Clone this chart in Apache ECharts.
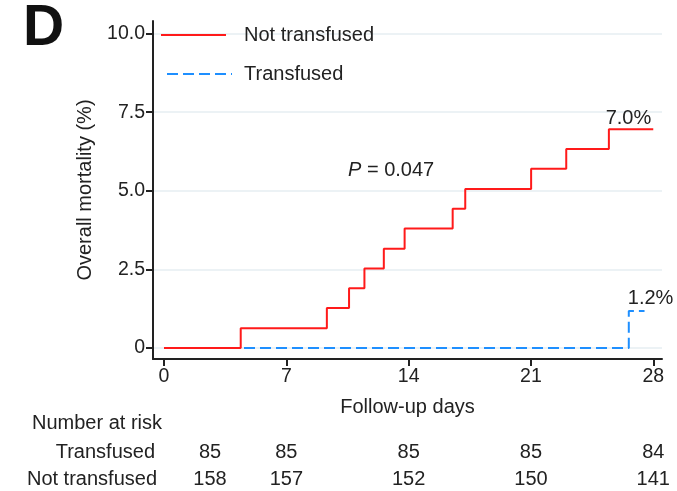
<!DOCTYPE html>
<html>
<head>
<meta charset="utf-8">
<script src="https://cdn.jsdelivr.net/npm/echarts@6/dist/echarts.min.js"></script>
<style>
html,body{margin:0;padding:0;background:#fff;}
#c{width:677px;height:491px;}
</style>
</head>
<body>
<div id="c"></div>
<script>
// ---- data ----
const xTicks = [0, 7, 14, 21, 28];
const yTicks = [0, 2.5, 5, 7.5, 10];
const notTransfusedDays = [0, 4.39, 9.32, 10.59, 11.47, 12.58, 13.77, 16.52, 17.24, 21.01, 23.02, 25.46, 28];
const notTransfusedMort = [0, 0.63, 1.27, 1.90, 2.53, 3.16, 3.80, 4.43, 5.06, 5.70, 6.33, 6.96, 6.96];
const transfusedDays = [0, 26.6, 27.5];
const transfusedMort = [0, 1.18, 1.18];
const riskRows = ['Transfused', 'Not transfused'];
const riskTransfused = [85, 85, 85, 85, 84];
const riskNotTransfused = [158, 157, 152, 150, 141];
const pValueText = '0.047';

const FONT = "'Liberation Sans', Arial, sans-serif";
const TXT = '#222';
const FS = 20;
const FT = 19.5;

const chart = echarts.init(document.getElementById('c'), null, {renderer: 'canvas'});

const zip = (a, b) => a.map((v, i) => [v, b[i]]);

chart.setOption({
  animation: false,
  backgroundColor: '#fff',
  textStyle: {fontFamily: FONT},
  grid: {left: 153, top: 21, right: 15, bottom: 132, containLabel: false},
  legend: [
    {
      data: ['Not transfused'], left: 155, top: 20, itemWidth: 65, itemHeight: 14,
      itemStyle: {opacity: 0},
      textStyle: {fontSize: FS, color: TXT, fontFamily: FONT, padding: [0, 0, 0, 13]},
      selectedMode: false
    },
    {
      data: ['Transfused'], left: 161, top: 59, itemWidth: 65, itemHeight: 14,
      itemStyle: {opacity: 0},
      textStyle: {fontSize: FS, color: TXT, fontFamily: FONT, padding: [0, 0, 0, 7]},
      selectedMode: false
    }
  ],
  xAxis: {
    type: 'value', min: -0.63, max: 28.5,
    name: 'Follow-up days', nameLocation: 'middle', nameGap: 38,
    nameTextStyle: {fontSize: FS, color: TXT, fontFamily: FONT},
    axisLine: {show: true, onZero: false, lineStyle: {color: '#222', width: 2}},
    axisTick: {show: true, customValues: xTicks, length: 7, lineStyle: {color: '#222', width: 2}},
    axisLabel: {customValues: xTicks, fontSize: FT, color: TXT, margin: 8, fontFamily: FONT},
    splitLine: {show: false}
  },
  yAxis: {
    type: 'value', min: -0.35, max: 10.4,
    name: 'Overall mortality (%)', nameLocation: 'middle', nameGap: 58, nameRotate: 90,
    nameTextStyle: {fontSize: FS, color: TXT, fontFamily: FONT},
    axisLine: {show: true, onZero: false, lineStyle: {color: '#222', width: 2}},
    axisTick: {show: true, customValues: yTicks, length: 7, lineStyle: {color: '#222', width: 2}},
    axisLabel: {customValues: yTicks, fontSize: FT, color: TXT, margin: 8, fontFamily: FONT,
      formatter: v => v === 0 ? '0' : v.toFixed(1)},
    splitLine: {show: true, lineStyle: {color: '#e6eef2', width: 1.5}}
  },
  series: [
    {
      name: 'Transfused', type: 'line', step: 'end', symbol: 'none', z: 2,
      data: zip(transfusedDays, transfusedMort),
      lineStyle: {color: '#1e8fff', width: 2, type: [11, 5]},
      itemStyle: {color: '#1e8fff'}
    },
    {
      name: 'Not transfused', type: 'line', step: 'end', symbol: 'none', z: 3,
      data: zip(notTransfusedDays, notTransfusedMort),
      lineStyle: {color: '#ff1a1a', width: 2},
      itemStyle: {color: '#ff1a1a'}
    }
  ]
});

// annotations positioned through the chart's own scales
const px = (x, y) => chart.convertToPixel({gridIndex: 0}, [x, y]);
const g = [];
g.push({type: 'text', left: 23, top: 1, style: {text: 'D', font: "bold 57px " + FONT, fill: '#111'}});

const nLast = notTransfusedDays.length - 1;
const pRed = px(notTransfusedDays[nLast], notTransfusedMort[nLast]);
g.push({type: 'text', x: pRed[0] - 2, y: pRed[1] - 10.5,
  style: {text: notTransfusedMort[nLast].toFixed(1) + '%', font: FS + 'px ' + FONT, fill: TXT, align: 'right', verticalAlign: 'middle'}});
const tLast = transfusedDays.length - 1;
const pBlue = px(transfusedDays[1], transfusedMort[tLast]);
g.push({type: 'text', x: pBlue[0] - 1, y: pBlue[1] - 12,
  style: {text: transfusedMort[tLast].toFixed(1) + '%', font: FS + 'px ' + FONT, fill: TXT, align: 'left', verticalAlign: 'middle'}});

g.push({type: 'text', x: 348, y: 170, style: {
  text: '{i|P} = ' + pValueText, font: FS + 'px ' + FONT, fill: TXT, verticalAlign: 'middle',
  rich: {i: {fontStyle: 'italic', fontSize: FS, fontFamily: FONT, fill: TXT}}
}});

// number-at-risk table
g.push({type: 'text', x: 32, y: 423, style: {text: 'Number at risk', font: FS + 'px ' + FONT, fill: TXT, verticalAlign: 'middle'}});
const rowY = [452, 479];
const rowRight = [155, 157];
const rows = [riskTransfused, riskNotTransfused];
riskRows.forEach((name, r) => {
  g.push({type: 'text', x: rowRight[r], y: rowY[r], style: {text: name, font: FS + 'px ' + FONT, fill: TXT, align: 'right', verticalAlign: 'middle'}});
  rows[r].forEach((v, i) => {
    let cx = px(xTicks[i], 0)[0];
    if (i === 0) cx += 46;
    g.push({type: 'text', x: cx, y: rowY[r], style: {text: String(v), font: FS + 'px ' + FONT, fill: TXT, align: 'center', verticalAlign: 'middle'}});
  });
});

chart.setOption({graphic: g});
</script>
</body>
</html>
